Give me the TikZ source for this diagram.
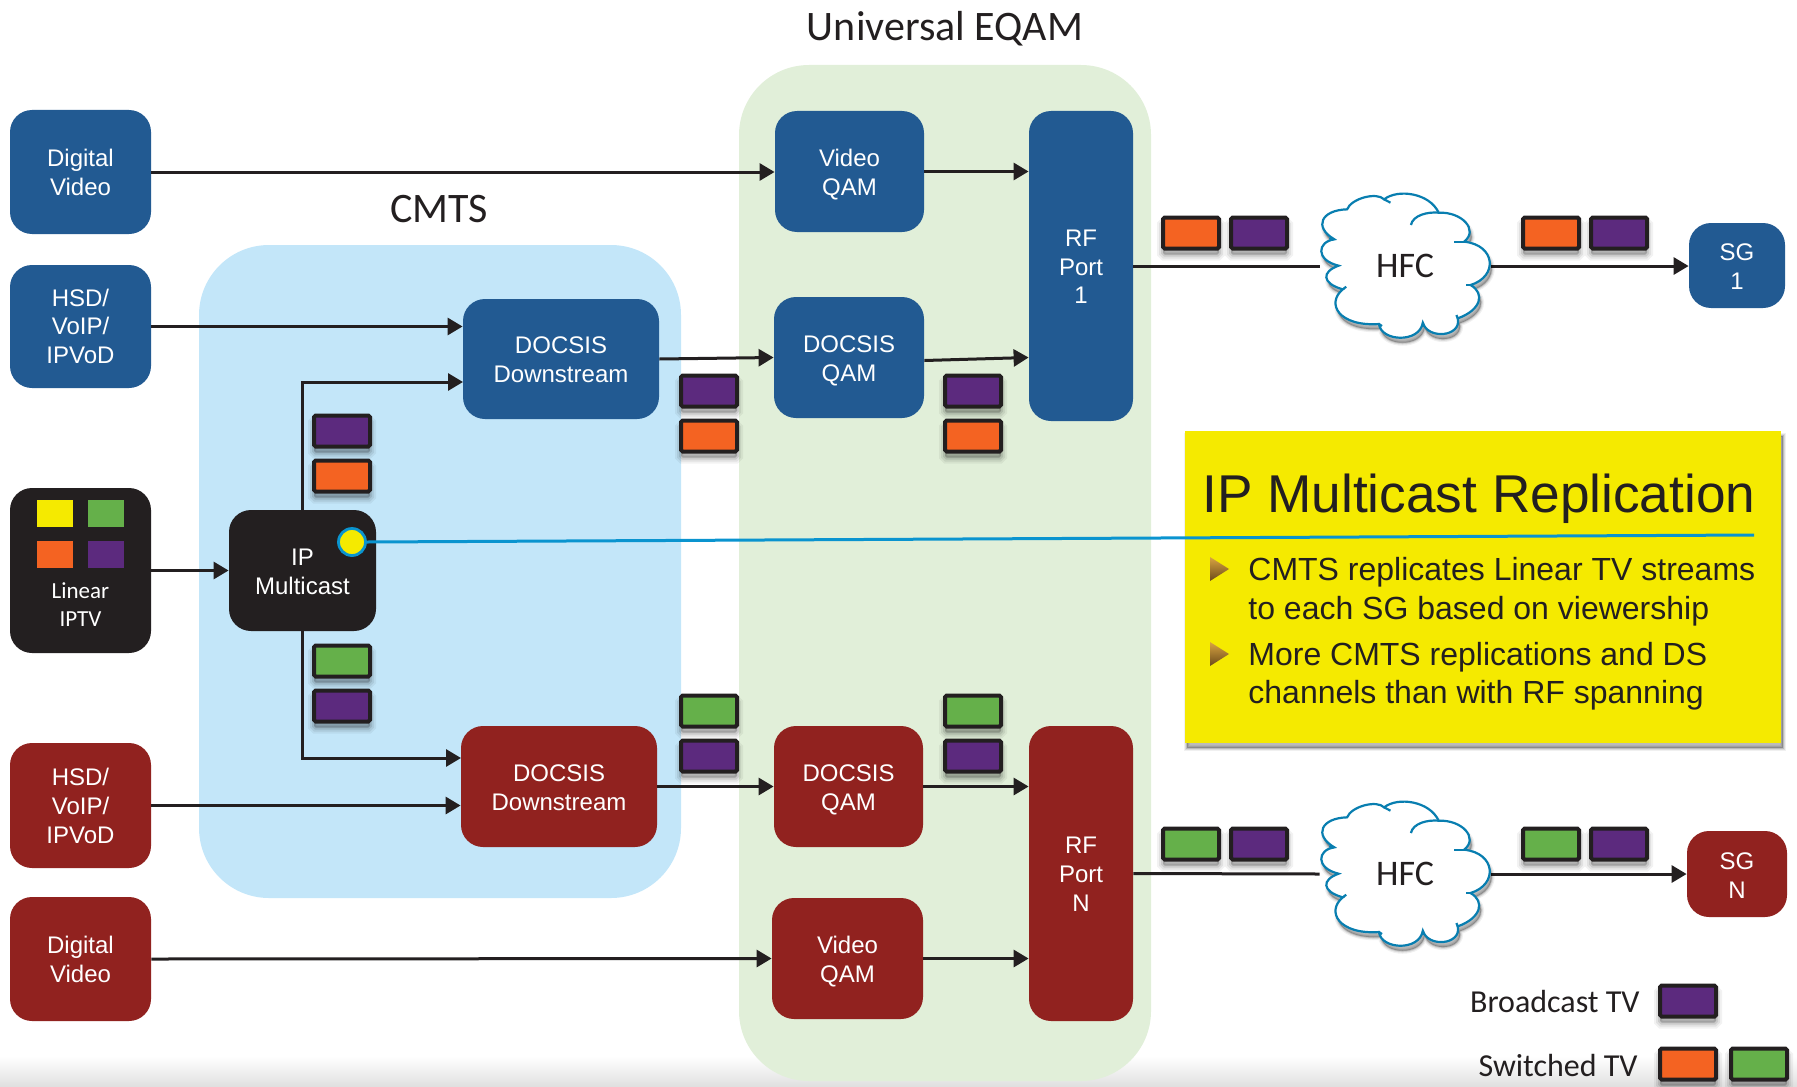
\documentclass[tikz,border=0pt]{standalone}
\usepackage{fontspec}
\setmainfont{Liberation Sans}
\newfontfamily\carlito{Carlito}
\usetikzlibrary{arrows.meta}
\definecolor{bxblue}{HTML}{225A92}
\definecolor{bxred}{HTML}{91221F}
\definecolor{bxblack}{HTML}{231F20}
\definecolor{panblue}{HTML}{C3E6F9}
\definecolor{pangreen}{HTML}{E1EFD9}
\definecolor{yel}{HTML}{F5EA00}
\definecolor{pkorange}{HTML}{F46322}
\definecolor{pkpurple}{HTML}{5C2A7E}
\definecolor{pkgreen}{HTML}{65B04A}
\definecolor{lineblue}{HTML}{0A94CF}
\definecolor{HTMLgold}{HTML}{D9A441}
\definecolor{HTMLbrown}{HTML}{6B4A1A}
\tikzset{
 shadowlayer/.style n args={4}{preaction={draw=black,fill=black,draw opacity=#1,fill opacity=#1,line width=#2,transform canvas={xshift=#3,yshift=#4}}},
 softshadow/.style={shadowlayer={.05}{6pt}{0pt}{-3pt},shadowlayer={.07}{4pt}{0pt}{-3pt},shadowlayer={.10}{2pt}{0pt}{-3pt}},
 tightshadow/.style={shadowlayer={.06}{3pt}{1pt}{-2.5pt},shadowlayer={.09}{1.8pt}{1pt}{-2.5pt},shadowlayer={.14}{.8pt}{1pt}{-2.5pt}},
 panelbox/.style={rounded corners=35pt,inner sep=0pt},
 mainbox/.style={rounded corners=11pt,inner sep=0pt,text=white,align=center,font=\fontsize{12}{14.4}\selectfont},
 bluebox/.style={mainbox,fill=bxblue},
 redbox/.style={mainbox,fill=bxred},
 blackbox/.style={mainbox,fill=bxblack},
 packet/.style={softshadow,draw=bxblack,line width=2pt,rounded corners=0.8pt,inner sep=0pt,minimum width=28pt,minimum height=15.5pt},
 flow/.style={draw=bxblack,line width=1.5pt,-{Triangle[length=7.5pt,width=8.5pt]}},
 plainflow/.style={draw=bxblack,line width=1.5pt},
 heading/.style={font=\carlito\fontsize{21}{25}\selectfont,text=bxblack,inner sep=0pt},
 legendtext/.style={font=\carlito\fontsize{16}{19}\selectfont,text=bxblack,inner sep=0pt,anchor=base east},
 bullettext/.style={font=\fontsize{16}{19}\selectfont,text=bxblack,inner sep=0pt,anchor=base west},
 swatch/.style={inner sep=0pt,minimum width=18pt,minimum height=13.5pt},
 cloudline/.style={draw=lineblue!85!black,line width=1.1pt},
 bullettri/.style={top color=HTMLgold,bottom color=HTMLbrown,draw=none}
}
% text lines moved down by #1 inside a node, size of the node text unchanged
\newcommand\nudged[2]{\raisebox{-#1}[\height][\depth]{\begin{tabular}{@{}c@{}}#2\end{tabular}}}
% name x1 y1 x2 y2 style text
\newcommand\bx[7]{%
 \pgfmathsetmacro\cxx{(#2+#4)/2}\pgfmathsetmacro\cyy{(#3+#5)/2}%
 \pgfmathsetmacro\wdd{(#4-#2)*0.5}\pgfmathsetmacro\htt{(#5-#3)*0.5}%
 \node[#6,minimum width=\wdd pt,minimum height=\htt pt] (#1) at (\cxx,\cyy) {#7};}
% name x1 y1 colour
\newcommand\pk[4]{%
 \pgfmathsetmacro\cxx{#2+29}\pgfmathsetmacro\cyy{#3+17}%
 \node[packet,fill=#4] (#1) at (\cxx,\cyy) {};}
\newcommand\hfccloud[1]{%
 \begin{scope}[shift={(1130,#1)},x=0.2128pt,y=-0.1667pt]
 \path[tightshadow,cloudline,fill=white]
  (510,118) .. controls (520,85) and (580,65) .. (597,88)
  .. controls (630,55) and (705,70) .. (725,128)
  .. controls (780,125) and (820,180) .. (785,215)
  .. controls (860,225) and (865,320) .. (800,345)
  .. controls (835,370) and (825,420) .. (770,445)
  .. controls (780,500) and (700,510) .. (688,458)
  .. controls (680,520) and (590,515) .. (585,462)
  .. controls (490,470) and (460,400) .. (500,358)
  .. controls (450,340) and (450,305) .. (490,287)
  .. controls (435,270) and (440,215) .. (480,208)
  .. controls (430,170) and (450,120) .. (510,118) -- cycle;
 \draw[cloudline] (660,165) .. controls (665,135) and (700,125) .. (725,128);
 \draw[cloudline] (597,88) -- (612,98);
 \draw[cloudline] (785,215) -- (762,215);
 \draw[cloudline] (800,345) -- (790,345);
 \draw[cloudline] (770,445) -- (767,435);
 \draw[cloudline] (500,358) -- (508,350);
 \draw[cloudline] (480,208) -- (468,205);
 \draw[cloudline] (585,462) -- (592,468);
 \draw[cloudline] (688,458) -- (690,470);
 \end{scope}}
\begin{document}
\begin{tikzpicture}[x=0.5pt,y=-0.5pt]
\useasboundingbox (0,0) rectangle (1797,1086);
\shade[top color=white,bottom color=black!12,draw=none] (0,1056) rectangle (1797,1086);
% panels
\bx{eqam}{739}{65}{1151}{1081}{panelbox,fill=pangreen}{}
\bx{cmts}{199}{245}{681}{898}{panelbox,fill=panblue}{}
\node[heading] (eqamtitle) at (945,29) {Universal EQAM};
\node[heading] (cmtstitle) at (439,209) {CMTS};
% boxes
\bx{dv1}{10}{110}{151}{234}{bluebox}{\nudged{1.7pt}{Digital\\Video}}
\bx{hsd1}{10}{265}{151}{388}{bluebox}{\nudged{1.3pt}{HSD/\\VoIP/\\IPVoD}}
\bx{lin}{10}{488}{151}{653}{blackbox}{}
\bx{ip}{229}{510}{376}{631}{blackbox}{\nudged{1.8pt}{IP\\Multicast}}
\bx{hsd2}{10}{743}{151}{868}{redbox}{\nudged{1.6pt}{HSD/\\VoIP/\\IPVoD}}
\bx{dv2}{10}{897}{151}{1021}{redbox}{\nudged{1.7pt}{Digital\\Video}}
\bx{ds1}{463}{299}{659}{419}{bluebox}{\nudged{1.7pt}{DOCSIS\\Downstream}}
\bx{ds2}{461}{726}{657}{847}{redbox}{\nudged{1.7pt}{DOCSIS\\Downstream}}
\bx{vq1}{775}{111}{924}{232}{bluebox}{\nudged{1.7pt}{Video\\QAM}}
\bx{dq1}{774}{297}{924}{418}{bluebox}{\nudged{1.7pt}{DOCSIS\\QAM}}
\bx{dq2}{774}{726}{923}{847}{redbox}{\nudged{1.7pt}{DOCSIS\\QAM}}
\bx{vq2}{772}{898}{923}{1019}{redbox}{\nudged{1.7pt}{Video\\QAM}}
\bx{rf1}{1029}{111}{1133}{421}{bluebox}{\nudged{1.7pt}{RF\\Port\\1}}
\bx{rfn}{1029}{726}{1133}{1021}{redbox}{\nudged{1.7pt}{RF\\Port\\N}}
\bx{sg1}{1689}{223}{1785}{308}{bluebox}{\nudged{1.7pt}{SG\\1}}
\bx{sgn}{1687}{831}{1787}{917}{redbox}{\nudged{2pt}{SG\\N}}
% Linear IPTV contents
\bx{lsy}{37}{500}{73}{527}{swatch,fill=yel}{}
\bx{lsg}{88}{500}{124}{527}{swatch,fill=pkgreen}{}
\bx{lso}{37}{541}{73}{568}{swatch,fill=pkorange}{}
\bx{lsp}{88}{541}{124}{568}{swatch,fill=pkpurple}{}
\node[text=white,align=center,inner sep=0pt,font=\carlito\fontsize{11.5}{14}\selectfont] (lintext) at (80.5,605) {Linear\\IPTV};
% cloud anchors
\bx{hfcone}{1320}{193}{1491}{339}{inner sep=0pt}{}
\bx{hfctwo}{1320}{801}{1491}{947}{inner sep=0pt}{}
\coordinate (ds1in) at (463,382);
\coordinate (ds2in) at (461,758);
% connectors
\draw[flow] (dv1.east) -- (dv1.east -| vq1.west);
\draw[flow] (vq1.east) -- (vq1.east -| rf1.west);
\draw[flow] (hsd1.east) -- (hsd1.east -| ds1.west);
\draw[flow] (ds1.east) -- (dq1.west);
\draw[flow] ([yshift=-1.5pt]dq1.east) -- (dq1.east -| rf1.west);
\draw[flow] (ip.north) |- (ds1in);
\draw[flow] (ip.south) |- (ds2in);
\draw[flow] (lin.east) -- (ip.west);
\draw[flow] (hsd2.east) -- (hsd2.east -| ds2.west);
\draw[flow] (ds2.east) -- (dq2.west);
\draw[flow] (dq2.east) -- (dq2.east -| rfn.west);
\draw[flow] (dv2.east) -- (vq2.west);
\draw[flow] (vq2.east) -- (vq2.east -| rfn.west);
\draw[plainflow] (rf1.east) -- (hfcone.west);
\draw[flow] (hfcone.east) -- (hfcone.east -| sg1.west);
\draw[plainflow] (rfn.east) -- (hfctwo.west);
\draw[flow] (hfctwo.east) -- (hfctwo.east -| sgn.west);
% clouds
\hfccloud{170}
\hfccloud{778}
\node[inner sep=0pt,text=bxblack,font=\carlito\fontsize{18}{22}\selectfont] (hfconetext) at (1405,266) {HFC};
\node[inner sep=0pt,text=bxblack,font=\carlito\fontsize{18}{22}\selectfont] (hfctwotext) at (1405,874) {HFC};
% packets
\pk{p1}{313}{414}{pkpurple}
\pk{p2}{313}{459}{pkorange}
\pk{p3}{313}{644}{pkgreen}
\pk{p4}{313}{689}{pkpurple}
\pk{p5}{680}{374}{pkpurple}
\pk{p6}{680}{419}{pkorange}
\pk{p7}{944}{374}{pkpurple}
\pk{p8}{944}{419}{pkorange}
\pk{p9}{680}{694}{pkgreen}
\pk{p10}{680}{739}{pkpurple}
\pk{p11}{944}{694}{pkgreen}
\pk{p12}{944}{739}{pkpurple}
\pk{p13}{1162}{216}{pkorange}
\pk{p14}{1230}{216}{pkpurple}
\pk{p15}{1522}{216}{pkorange}
\pk{p16}{1590}{216}{pkpurple}
\pk{p17}{1162}{827}{pkgreen}
\pk{p18}{1230}{827}{pkpurple}
\pk{p19}{1522}{827}{pkgreen}
\pk{p20}{1590}{827}{pkpurple}
\pk{p21}{1659}{984}{pkpurple}
\pk{p22}{1659}{1047}{pkorange}
\pk{p23}{1730}{1047}{pkgreen}
\node[legendtext] (ltb) at (1640,1012) {Broadcast TV};
\node[legendtext] (lts) at (1638,1076) {Switched TV};
% callout
\bx{callout}{1185}{431}{1781}{743}{tightshadow,inner sep=0pt,fill=yel}{}
\node[inner sep=0pt,anchor=base west,text=bxblack,font=\fontsize{26.6}{30}\selectfont] (ctitle) at (1202,512) {IP Multicast Replication};
\node[bullettext] (b1a) at (1248,580) {CMTS replicates Linear TV streams};
\node[bullettext] (b1b) at (1248,619) {to each SG based on viewership};
\node[bullettext] (b2a) at (1248,665) {More CMTS replications and DS};
\node[bullettext] (b2b) at (1248,703) {channels than with RF spanning};
\shade[bullettri] (1210,557) -- (1229,569) -- (1210,581) -- cycle;
\shade[bullettri] (1210,642) -- (1229,654) -- (1210,666) -- cycle;
% callout line
\coordinate (lineend) at (1754,535);
\node[circle,draw=lineblue,fill=yel,line width=1.4pt,minimum size=13.5pt,inner sep=0pt] (dot) at (352,542) {};
\draw[draw=lineblue,line width=1.5pt] (dot.east) -- (lineend);
\end{tikzpicture}
\end{document}
